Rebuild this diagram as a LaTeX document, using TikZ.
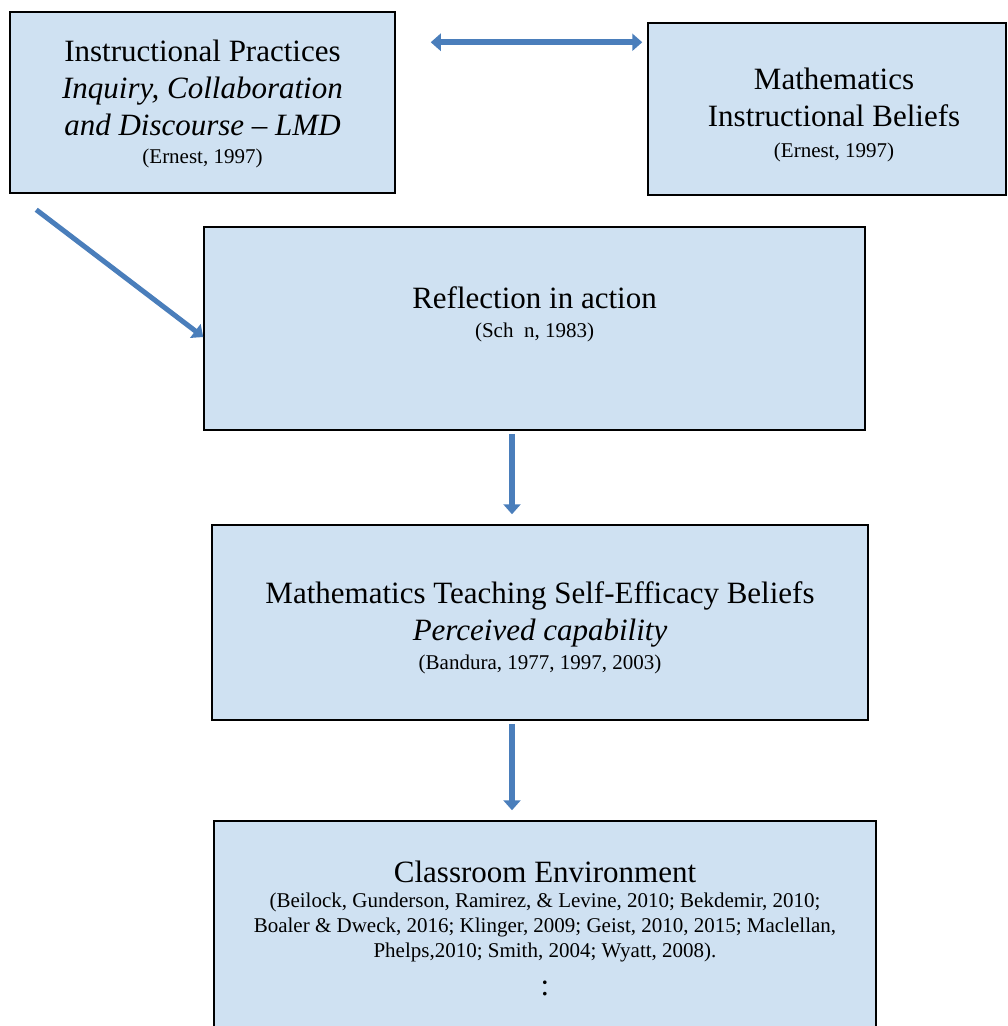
\documentclass[tikz,border=0pt]{standalone}
\usepackage{fontspec}
\setmainfont{Liberation Serif}
\usetikzlibrary{arrows.meta, positioning}

\definecolor{boxfill}{RGB}{207,225,242}
\definecolor{arrowblue}{RGB}{74,126,187}
\newcommand{\titlesize}{\fontsize{31}{37}\selectfont}
\newcommand{\refsize}{\fontsize{21}{25}\selectfont}

\begin{document}
\begin{tikzpicture}[
    x=1pt, y=-1pt,
    panel/.style={rectangle, draw, line width=1.5pt, fill=boxfill},
    boxtext/.style={anchor=north, inner sep=0pt, align=center, font=\titlesize},
    arrow/.style={-{Triangle[length=10pt, width=17pt]}, line width=6pt, arrowblue},
    twoway/.style={{Triangle[length=10pt, width=17pt]}-{Triangle[length=10pt, width=17pt]}, line width=6pt, arrowblue},
]
\useasboundingbox (0,0) rectangle (1008,1026);
\clip (0,0) rectangle (1008,1026);

% Boxes
\node[panel, minimum width=385pt, minimum height=181pt] (prac) at (202.5,102.5) {};
\node[panel, minimum width=358pt, minimum height=172pt] (beliefs) at (827,109) {};
\node[panel, minimum width=661pt, minimum height=203pt] (refl) at (534.5,328.5) {};
\node[panel, minimum width=656pt, minimum height=195pt] (teach) at (540,622.5) {};
\node[panel, minimum width=662pt, minimum height=230pt] (env) at (545,936) {};

% Texts
\node[boxtext, below=29pt of prac.north] (prac-txt) {Instructional Practices\\ \textit{Inquiry, Collaboration}\\ \textit{and Discourse -- LMD}\\[-9pt] {\refsize (Ernest, 1997)}};
\node[boxtext, below=46pt of beliefs.north, xshift=7pt] (beliefs-txt) {Mathematics\\ Instructional Beliefs\\[-6pt] {\refsize (Ernest, 1997)}};
\node[boxtext, below=60pt of refl.north] (refl-txt) {Reflection in action\\[-8pt] {\refsize (Sch\hspace{0.5em}n, 1983)}};
\node[boxtext, below=57pt of teach.north] (teach-txt) {Mathematics Teaching Self-Efficacy Beliefs\\ \textit{Perceived capability}\\[-8pt] {\refsize (Bandura, 1977, 1997, 2003)}};
\node[boxtext, font=\refsize, below=41pt of env.north] (env-txt) {{\titlesize Classroom Environment}\\ (Beilock, Gunderson, Ramirez, \& Levine, 2010; Bekdemir, 2010;\\ Boaler \& Dweck, 2016; Klinger, 2009; Geist, 2010, 2015; Maclellan,\\ Phelps,2010; Smith, 2004; Wyatt, 2008).\\[13pt] {\titlesize :}};

% Arrows
\draw[twoway] ([xshift=35pt, yshift=-31pt]prac.north east) -- ([xshift=-5pt, yshift=-31pt]prac.north east -| beliefs.west);
\draw[arrow, line width=5pt] ([xshift=27pt, yshift=-16pt]prac.south west) -- ([yshift=-8.5pt]refl.west);
\draw[arrow] ([xshift=-22.5pt, yshift=-3pt]refl.south) -- ([xshift=-22.5pt, yshift=10pt]refl.south |- teach.north);
\draw[arrow] ([xshift=-28pt, yshift=-3pt]teach.south) -- ([xshift=-28pt, yshift=10pt]teach.south |- env.north);

\end{tikzpicture}
\end{document}
